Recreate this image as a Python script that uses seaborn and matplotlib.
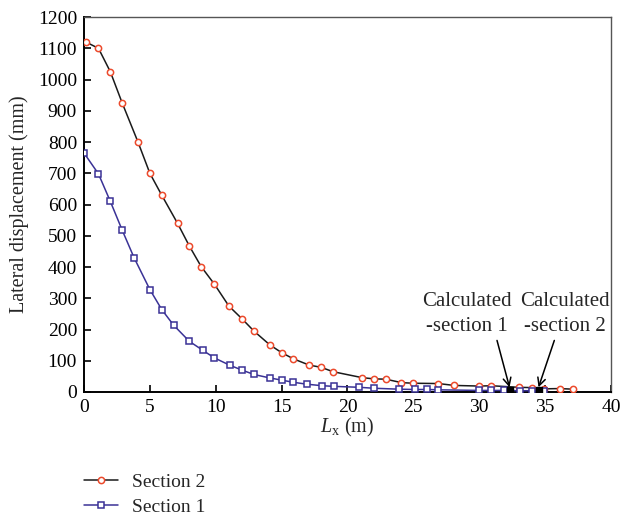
import matplotlib
matplotlib.use("Agg")
import matplotlib.pyplot as plt
import seaborn as sns
import pandas as pd

# Section 2 lateral displacement along Lx
sec2_x = [0.15, 1.1, 2.0, 2.9, 4.1, 5.0, 5.9, 7.1, 8.0, 8.9, 9.9, 11.0, 12.0, 12.9,
          14.1, 15.0, 15.9, 17.1, 18.0, 18.9, 21.1, 22.0, 22.9, 24.1, 25.0, 26.9,
          28.1, 30.0, 30.9, 33.0, 34.0, 34.9, 36.1, 37.1]
sec2_y = [1120, 1100, 1025, 925, 800, 700, 630, 540, 467, 401, 345, 275, 234, 195,
          151, 126, 106, 86, 79, 65, 46, 42, 41, 30, 28, 27,
          21, 19, 20, 15, 14, 10, 11, 9]

# Section 1 lateral displacement along Lx
sec1_x = [0.0, 1.1, 2.0, 2.9, 3.8, 5.0, 5.9, 6.8, 8.0, 9.0, 9.9, 11.1, 12.0, 12.9,
          14.1, 15.0, 15.9, 16.9, 18.1, 19.0, 20.9, 22.0, 23.9, 25.1, 26.0, 26.9,
          30.0, 30.9, 31.9, 33.1, 34.0, 34.9]
sec1_y = [765, 698, 610, 518, 430, 328, 264, 214, 162, 134, 109, 85, 70, 56,
          45, 38, 31, 25, 20, 18, 15, 12, 9, 8, 8, 7,
          5, 5, 5, 4, 4, 3]

# Calculated values for both sections
calc_x = [32.3, 34.5]
calc_y = [5, 5]
calc_labels = ["Calculated\n-section 1", "Calculated\n-section 2"]

x_ticks = [0, 5, 10, 15, 20, 25, 30, 35, 40]
y_ticks = list(range(0, 1201, 100))

sns.set_theme(style="white")
plt.rcParams["font.family"] = ["Liberation Serif", "DejaVu Serif"]
plt.rcParams["mathtext.fontset"] = "custom"
plt.rcParams["mathtext.it"] = "Liberation Serif:italic"
plt.rcParams["mathtext.rm"] = "Liberation Serif"

fig = plt.figure(figsize=(6.23, 5.17), dpi=100)
ax = fig.add_axes([0.1348, 0.2418, 0.8459, 0.7252])

df2 = pd.DataFrame({"Lx": sec2_x, "disp": sec2_y})
df1 = pd.DataFrame({"Lx": sec1_x, "disp": sec1_y})

red = "#ec4a2c"
blue = "#3a3296"

sns.lineplot(data=df2, x="Lx", y="disp", ax=ax, sort=False, estimator=None,
             color="#1a1a1a", linewidth=1.1, marker="o", markersize=4.5,
             markerfacecolor="white", markeredgecolor=red, markeredgewidth=1.1,
             label="Section 2", zorder=3)
sns.lineplot(data=df1, x="Lx", y="disp", ax=ax, sort=False, estimator=None,
             color=blue, linewidth=1.1, marker="s", markersize=4.2,
             markerfacecolor="white", markeredgecolor=blue, markeredgewidth=1.1,
             label="Section 1", zorder=3)

ax.scatter(calc_x, calc_y, marker="s", s=22, color="black", zorder=4)

# Labels for the calculated values, with arrows pointing at them
text_pos = [(29.1, 250), (36.5, 250)]
arrow_tail = [(31.35, 165), (35.7, 165)]
for (tx, ty), (ax0, ay0), cx, cy, lab in zip(text_pos, arrow_tail, calc_x, calc_y, calc_labels):
    ax.text(tx, ty, lab, ha="center", va="center", fontsize=15, linespacing=1.4)
    ax.annotate("", xy=(cx, cy + 10), xytext=(ax0, ay0),
                arrowprops=dict(arrowstyle="->", color="black", lw=1.1,
                                shrinkA=0, shrinkB=0, mutation_scale=14))

ax.set_xlim(0, 40)
ax.set_ylim(0, 1200)
ax.set_xticks(x_ticks)
ax.set_yticks(y_ticks)
ax.tick_params(axis="both", direction="in", length=5, width=1.2, labelsize=14,
               colors="black", pad=5, top=False, right=False, bottom=True, left=True)
for side in ["left", "bottom"]:
    ax.spines[side].set_color("black")
    ax.spines[side].set_linewidth(1.4)
for side in ["top", "right"]:
    ax.spines[side].set_color("#555555")
    ax.spines[side].set_linewidth(1.0)

ax.set_xlabel(r"$L_{\mathrm{x}}$ (m)", fontsize=14.5, labelpad=0)
ax.set_ylabel("Lateral displacement (mm)", fontsize=14.5, labelpad=6)

handles, labels = ax.get_legend_handles_labels()
ax.get_legend().remove()
leg = fig.legend(handles, labels, loc="upper left", bbox_to_anchor=(0.122, 0.1),
                 frameon=False, fontsize=14, handlelength=1.75, handletextpad=0.75,
                 labelspacing=0.38, borderaxespad=0)
for h in leg.legend_handles:
    if hasattr(h, "set_markevery"):
        h.set_markevery([1])

fig.savefig("out.png", dpi=100)
